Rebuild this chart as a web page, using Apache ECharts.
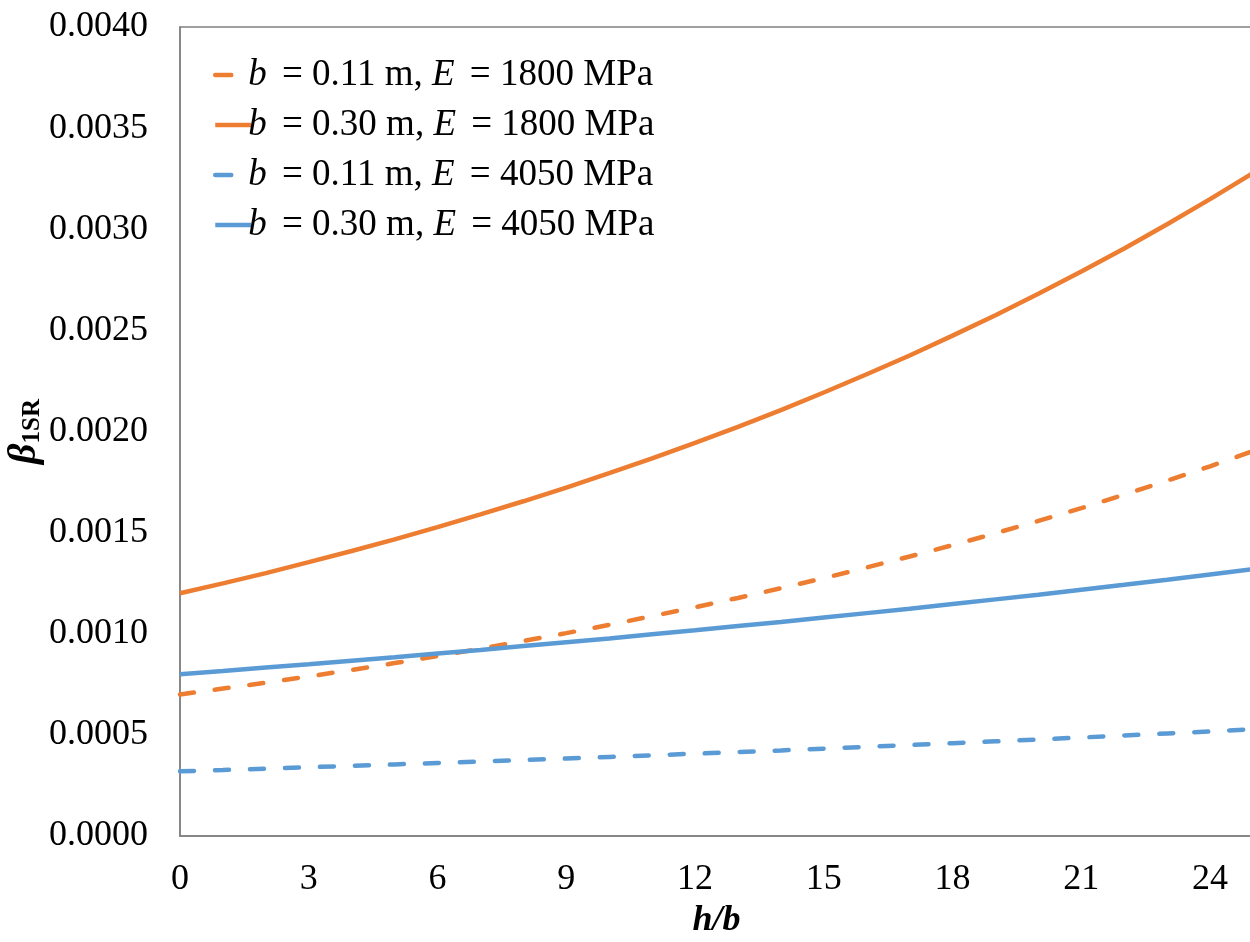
<!DOCTYPE html>
<html>
<head>
<meta charset="utf-8">
<script src="https://cdn.jsdelivr.net/npm/echarts@6/dist/echarts.min.js"></script>
<style>
html,body{margin:0;padding:0;background:#fff;}
#chart{width:1250px;height:942px;}
</style>
</head>
<body>
<div id="chart"></div>
<script>
// h/b values
var hb = [0,1,2,3,4,5,6,7,8,9,10,11,12,13,14,15,16,17,18,19,20,21,22,23,24,25];
// b = 0.11 m, E = 1800 MPa (dashed orange)
var b011E1800 = [0.000700,0.000729,0.000758,0.000789,0.000821,0.000855,0.000890,0.000926,0.000964,0.001003,0.001044,0.001087,0.001131,0.001177,0.001225,0.001275,0.001328,0.001382,0.001438,0.001497,0.001558,0.001621,0.001688,0.001757,0.001828,0.001903];
// b = 0.30 m, E = 1800 MPa (solid orange)
var b030E1800 = [0.001200,0.001249,0.001300,0.001354,0.001409,0.001467,0.001527,0.001590,0.001655,0.001723,0.001794,0.001867,0.001944,0.002023,0.002106,0.002193,0.002283,0.002376,0.002474,0.002575,0.002681,0.002791,0.002905,0.003025,0.003149,0.003278];
// b = 0.11 m, E = 4050 MPa (dashed blue)
var b011E4050 = [0.000320,0.000326,0.000333,0.000340,0.000347,0.000354,0.000361,0.000368,0.000376,0.000383,0.000391,0.000399,0.000407,0.000415,0.000423,0.000432,0.000441,0.000450,0.000459,0.000468,0.000477,0.000487,0.000497,0.000507,0.000517,0.000528];
// b = 0.30 m, E = 4050 MPa (solid blue)
var b030E4050 = [0.000800,0.000816,0.000833,0.000849,0.000867,0.000884,0.000902,0.000920,0.000939,0.000958,0.000977,0.000997,0.001017,0.001038,0.001058,0.001080,0.001102,0.001124,0.001147,0.001170,0.001193,0.001218,0.001242,0.001267,0.001293,0.001319];
var seriesNames = ['b011E1800','b030E1800','b011E4050','b030E4050'];
var legendLabels = {
  b011E1800: '{i|b} = 0.11 m, {i|E} = 1800 MPa',
  b030E1800: '{i|b} = 0.30 m, {i|E} = 1800 MPa',
  b011E4050: '{i|b} = 0.11 m, {i|E} = 4050 MPa',
  b030E4050: '{i|b} = 0.30 m, {i|E} = 4050 MPa'
};
var dashedSet = { b011E1800: true, b011E4050: true };

function pairs(arr){ return hb.map(function(x,i){ return [x, arr[i]]; }); }

var FONT = '"Liberation Serif","Times New Roman",serif';
var ORANGE = '#ED7D31', BLUE = '#5B9BD5';
var dash = [14, 21];

function mk(name, data, color, dashed){
  return {
    name: name, type: 'line', data: pairs(data),
    showSymbol: false, symbol: 'none', smooth: false,
    lineStyle: { color: color, width: 4.5, type: dashed ? dash : 'solid', cap: dashed ? 'round' : 'butt' },
    itemStyle: { color: color },
    emphasis: { disabled: true },
    animation: false
  };
}

var chart = echarts.init(document.getElementById('chart'), null, {renderer: 'canvas'});
chart.setOption({
  backgroundColor: '#ffffff',
  animation: false,
  grid: { left: 180, right: -3, top: 27, bottom: 106, show: true, borderColor: '#808080', borderWidth: 1.5, containLabel: false, outerBoundsMode: 'none' },
  legend: {
    data: seriesNames.map(function(n){
      return dashedSet[n] ? { name: n, lineStyle: { type: [16, 60], cap: 'round' } } : { name: n };
    }),
    orient: 'vertical',
    left: 208, top: 50,
    itemWidth: 36, itemHeight: 14, itemGap: 10,
    itemStyle: { opacity: 0 },
    lineStyle: { width: 4.5 },
    formatter: function(n){ return legendLabels[n]; },
    textStyle: {
      color: '#000', fontFamily: FONT, fontSize: 37, lineHeight: 40, padding: [0,0,0,-8],
      rich: { i: { fontStyle: 'italic', fontFamily: FONT, fontSize: 37, color: '#000', padding: [0,6,0,0] } }
    }
  },
  xAxis: {
    type: 'value', min: 0, max: 25, interval: 3,
    name: '{t|h/b}', nameLocation: 'middle', nameGap: 67, nameMoveOverlap: false,
    nameTextStyle: { rich: { t: { fontFamily: FONT, fontSize: 36, fontWeight: 'bold', fontStyle: 'italic', color: '#000' } } },
    axisLine: { show: true, lineStyle: { color: '#808080', width: 1.5 } },
    axisTick: { show: false },
    splitLine: { show: false },
    axisLabel: { color: '#000', fontFamily: FONT, fontSize: 36, margin: 26, showMaxLabel: false }
  },
  yAxis: {
    type: 'value', min: 0, max: 0.004, interval: 0.0005,
    name: '{b|β}{s|1SR}', nameLocation: 'middle', nameGap: 135, nameRotate: 90, nameMoveOverlap: false,
    nameTextStyle: { rich: {
      b: { fontFamily: FONT, fontSize: 40, fontWeight: 'bold', fontStyle: 'italic', color: '#000' },
      s: { fontFamily: FONT, fontSize: 25, fontWeight: 'bold', color: '#000', verticalAlign: 'bottom', padding: [14,0,0,0] }
    } },
    axisLine: { show: true, lineStyle: { color: '#808080', width: 1.5 } },
    axisTick: { show: false },
    splitLine: { show: false },
    axisLabel: { color: '#000', fontFamily: FONT, fontSize: 36, margin: 32, formatter: function(v){ return v.toFixed(4); } }
  },
  series: [
    mk('b011E1800', b011E1800, ORANGE, true),
    mk('b030E1800', b030E1800, ORANGE, false),
    mk('b011E4050', b011E4050, BLUE, true),
    mk('b030E4050', b030E4050, BLUE, false)
  ]
});
</script>
</body>
</html>
